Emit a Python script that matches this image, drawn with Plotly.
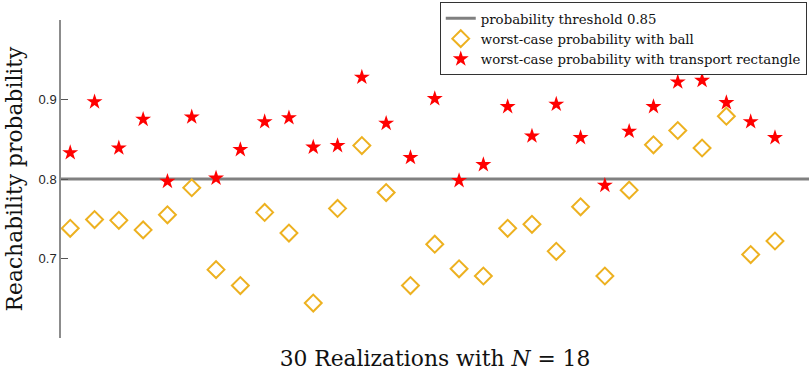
import plotly.graph_objects as go

realizations = list(range(1, 31))
ball_prob = [0.738, 0.749, 0.748, 0.736, 0.755, 0.789, 0.686, 0.666, 0.758, 0.732,
             0.644, 0.763, 0.842, 0.783, 0.666, 0.718, 0.687, 0.678, 0.738, 0.743,
             0.709, 0.765, 0.678, 0.786, 0.843, 0.861, 0.839, 0.879, 0.705, 0.722]
rect_prob = [0.833, 0.897, 0.839, 0.875, 0.797, 0.878, 0.801, 0.837, 0.872, 0.877,
             0.840, 0.842, 0.928, 0.870, 0.827, 0.901, 0.798, 0.818, 0.891, 0.854,
             0.894, 0.852, 0.792, 0.860, 0.891, 0.922, 0.924, 0.896, 0.872, 0.852]
threshold = 0.8
x_range = [0.62, 31.4]
y_range = [0.6, 1.0]
y_ticks = [0.7, 0.8, 0.9]

serif = "DejaVu Serif, serif"

fig = go.Figure()
fig.add_trace(go.Scatter(
    x=x_range, y=[threshold, threshold], mode="lines",
    line=dict(color="#808080", width=3),
    name="probability threshold 0.85"))
fig.add_trace(go.Scatter(
    x=realizations, y=ball_prob, mode="markers",
    marker=dict(symbol="diamond-open", size=13, color="#EDB120",
                line=dict(width=2, color="#EDB120")),
    name="worst-case probability with ball"))
fig.add_trace(go.Scatter(
    x=realizations, y=rect_prob, mode="markers",
    marker=dict(symbol="star", size=12, color="#FF0000",
                line=dict(width=0)),
    name="worst-case probability with transport rectangle"))

fig.update_layout(
    width=809, height=373,
    margin=dict(l=61, r=0, t=20, b=35, autoexpand=False),
    paper_bgcolor="white", plot_bgcolor="white",
    showlegend=True,
    legend=dict(
        x=0.997, y=1.056, xanchor="right", yanchor="top",
        bgcolor="white", bordercolor="#333333", borderwidth=1,
        font=dict(family=serif, size=13.3, color="#111111"),
        tracegroupgap=0, itemwidth=30,
    ),
    xaxis=dict(
        range=x_range, showline=False, showgrid=False, zeroline=False,
        showticklabels=False, ticks="",
        title=dict(text="30 Realizations with <i>N</i> = 18",
                   font=dict(family=serif, size=21.8, color="#111111"),
                   standoff=12),
    ),
    yaxis=dict(
        range=y_range, showline=True, linecolor="#8c8c8c", linewidth=1.5,
        showgrid=False, zeroline=False,
        tickmode="array", tickvals=y_ticks, ticktext=["0.7", "0.8", "0.9"],
        ticks="inside", ticklen=7, tickcolor="#555555", tickwidth=1,
        tickfont=dict(family="Liberation Sans, Arial, sans-serif", size=13, color="#262626"),
        title=dict(text="Reachability probability",
                   font=dict(family=serif, size=21.8, color="#111111"),
                   standoff=10),
    ),
)

# remove the browser's default 8px page margin so the figure sits at the window origin
fig.write_html("out.html", config={"displayModeBar": False},
               post_script="document.body.style.margin='0';")
